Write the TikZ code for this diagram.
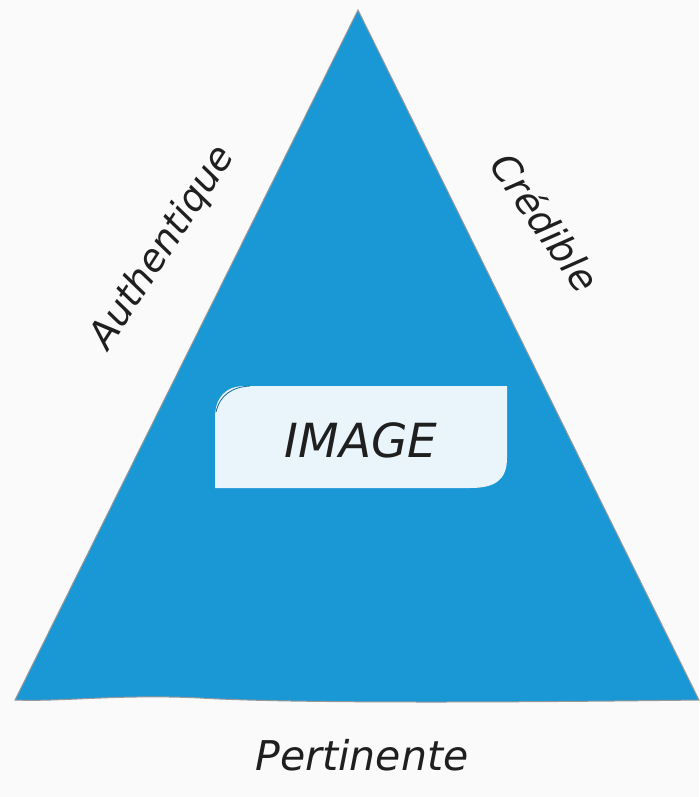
\documentclass[tikz,border=0pt]{standalone}
\usepackage{fontspec}
\setmainfont{DejaVu Sans}
\begin{document}
\begin{tikzpicture}[x=1pt,y=-1pt,
  hand/.style={font=\itshape\fontsize{38}{42}\selectfont, text=black!88},
  tri/.style={fill=triblue, draw=gray!80, line width=1pt},
  imgbox/.style={fill=boxblue}]
\definecolor{triblue}{HTML}{1A97D5}
\definecolor{boxblue}{HTML}{EAF4FB}
\fill[white!98!black] (0,0) rectangle (699,797);
\useasboundingbox (0,0) rectangle (699,797);
% triangle
\coordinate (apex) at (358,10);
\coordinate (bl) at (15,700);
\coordinate (br) at (699,700);
\path[tri] (apex) -- (br) .. controls (550,702) and (300,704) .. (200,698)
  .. controls (120,694) and (60,702) .. (bl) -- cycle;
% image box
\path[imgbox] (245,386) -- (507,386) -- (507,458)
  .. controls (507,480) and (495,488) .. (470,488) -- (215,488) -- (215,418)
  .. controls (215,398) and (225,386) .. (245,386) -- cycle;
\draw[triblue!70!black, line width=0.8pt] (216,412) .. controls (220,395) and (232,387) .. (250,386);
\node[hand, font=\itshape\fontsize{47}{50}\selectfont] (img) at (361,440) {IMAGE};
% labels
\node[hand, rotate=57] (auth) at (163,248) {Authentique};
\node[hand, rotate=-55] (cred) at (546,222) {Crédible};
\node[hand, font=\itshape\fontsize{41}{44}\selectfont] (pert) at (362,755) {Pertinente};
\end{tikzpicture}
\end{document}
